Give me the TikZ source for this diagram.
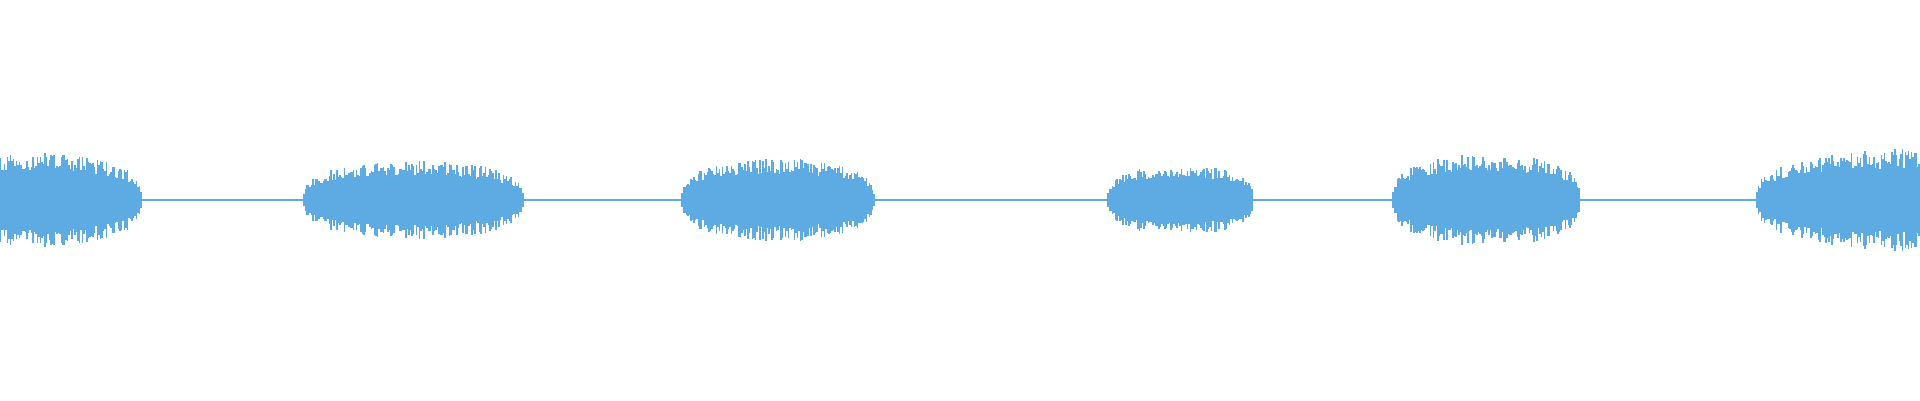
\documentclass[tikz,border=0pt]{standalone}
\definecolor{wave}{HTML}{5DABE2}
\newcommand\wseg[5]{%
  \pgfmathtruncatemacro\nn{(#5-#4)/1.5}%
  \foreach \i in {0,...,\nn}{%
    \pgfmathsetmacro\xx{#4+1.5*\i}%
    \pgfmathsetmacro\tt{min(0.999,max(0.001,(\xx-#1)/(#2-#1)))}%
    \pgfmathsetmacro\hh{#3*pow(sin(180*\tt),0.3)*(0.62+0.4*rnd)+1}%
    \draw (\xx,200-\hh)--(\xx,200+\hh);}}
\begin{document}
\begin{tikzpicture}[x=1pt,y=1pt]
\useasboundingbox (0,0) rectangle (1920,400);
\pgfmathsetseed{7}
\draw[wave,line width=2.5pt] (0,200)--(1920,200);
\begin{scope}[wave,line width=1.3pt]
\wseg{-60}{141}{45}{0}{141}
\wseg{304}{523}{38}{304}{523}
\wseg{682}{874}{40}{682}{874}
\wseg{1108}{1253}{34}{1108}{1253}
\wseg{1393}{1580}{45}{1393}{1580}
\wseg{1757}{2100}{50}{1757}{1920}
\end{scope}
\end{tikzpicture}
\end{document}
